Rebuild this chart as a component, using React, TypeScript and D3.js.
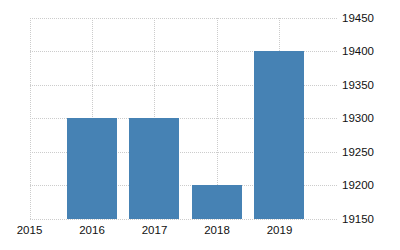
import React from "react";
import * as d3 from "d3";

const years = [2016, 2017, 2018, 2019];
const values = [19300, 19300, 19200, 19400];
const xTicks = [2015, 2016, 2017, 2018, 2019];
const yTicks = [19150, 19200, 19250, 19300, 19350, 19400, 19450];

export default function App() {
  const W = 400, H = 250;
  const left = 29.5, right = 337, top = 17.5, bottom = 218.5;
  const x = d3.scaleLinear().domain([2015, 2019.92]).range([left, right]);
  const y = d3.scaleLinear().domain([19150, 19450]).range([bottom, top]);
  const barW = 50;
  const font = "'Liberation Sans', Arial, sans-serif";
  return (
    <svg width={W} height={H} style={{ position: "absolute", left: 0, top: 0 }}>
      <g stroke="#cccccc" strokeWidth={1} strokeDasharray="1,1" fill="none" shapeRendering="crispEdges">
        {yTicks.map((t) => (
          <line key={"h" + t} x1={left} x2={right} y1={Math.round(y(t)) + 0.5} y2={Math.round(y(t)) + 0.5} />
        ))}
        {xTicks.map((t) => (
          <line key={"v" + t} x1={Math.round(x(t)) + 0.5} x2={Math.round(x(t)) + 0.5} y1={top} y2={bottom} />
        ))}
      </g>
      {years.map((yr, i) => (
        <rect
          key={yr}
          x={Math.round(x(yr) - barW / 2)}
          width={barW}
          y={Math.round(y(values[i]))}
          height={Math.round(y(19150)) - Math.round(y(values[i]))}
          fill="#4682b4"
        />
      ))}
      <g fontFamily={font} fontSize={11.5} fill="#111">
        {yTicks.map((t) => (
          <text key={"yl" + t} x={342} y={y(t) + 4}>
            {t}
          </text>
        ))}
        {xTicks.map((t) => (
          <text key={"xl" + t} x={x(t)} y={234} textAnchor="middle">
            {t}
          </text>
        ))}
      </g>
    </svg>
  );
}
